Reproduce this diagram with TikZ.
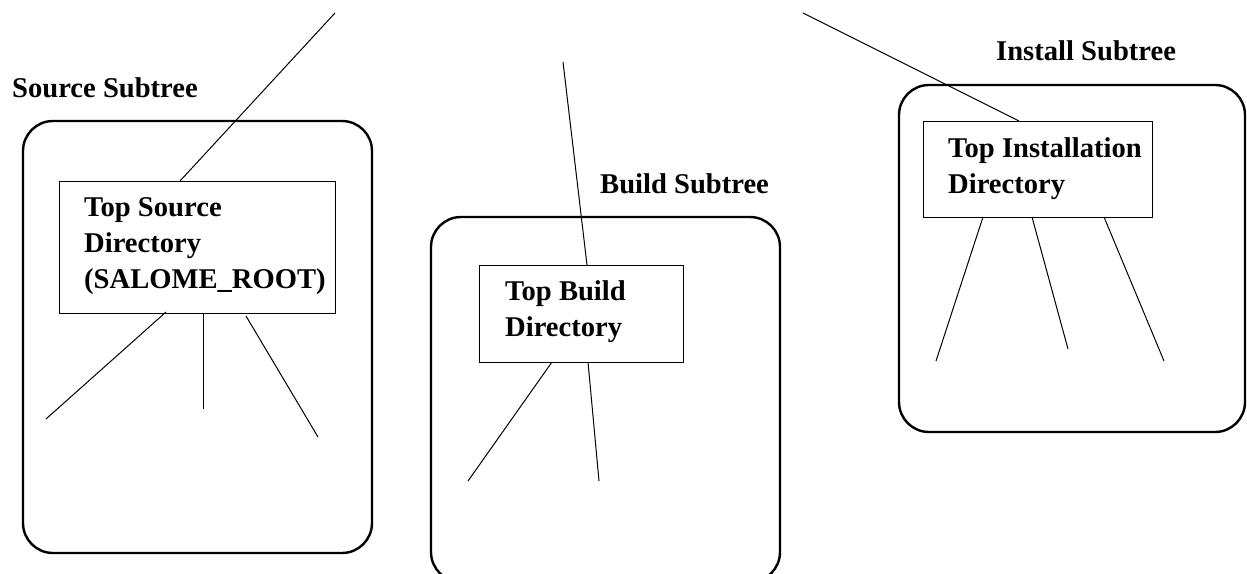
\documentclass[tikz,border=0pt]{standalone}
\usepackage{fontspec}
\setmainfont{Liberation Serif}
\begin{document}
\begin{tikzpicture}[x=1pt,y=-1pt,
  outerbox/.style={draw, line width=2.4pt, rounded corners=30pt},
  dirbox/.style={draw, line width=1.2pt, anchor=north west, inner sep=0pt},
  lbl/.style={font=\fontsize{28.6}{35.6}\selectfont\bfseries, anchor=base west, inner sep=0pt, align=left},
  conn/.style={draw, line width=1pt}]
\useasboundingbox (0,0) rectangle (1247,573);
\begin{scope}
\clip (0,0) rectangle (1247,573);
% outer subtree boxes
\draw[outerbox] (23,121) rectangle (372,553);
\draw[outerbox] (431,217) rectangle (780,582);
\draw[outerbox] (899,85) rectangle (1245,432);
\end{scope}
% titles
\node[lbl] (srctitle) at (12,97) {Source Subtree};
\node[lbl] (bldtitle) at (600,193) {Build Subtree};
\node[lbl] (insttitle) at (996,60) {Install Subtree};
% directory boxes
\node[dirbox, minimum width=276pt, minimum height=132pt] (srcbox) at (59,181) {};
\node[dirbox, minimum width=204pt, minimum height=97pt] (bldbox) at (479,265) {};
\node[dirbox, minimum width=229pt, minimum height=96pt] (instbox) at (923,121) {};
% directory texts (base anchor = last line)
\node[lbl] (srctext) at (84,288) {Top Source\\Directory\\(SALOME\_ROOT)};
\node[lbl] (bldtext) at (505,336) {Top Build\\Directory};
\node[lbl] (insttext) at (948,193) {Top Installation\\Directory};
% attach points and free ends
\coordinate (s0) at (335,13);  \coordinate (sa0) at (180,181);
\coordinate (sa1) at (166,312); \coordinate (s1) at (46,419);
\coordinate (sa2) at (203,313); \coordinate (s2) at (203,409);
\coordinate (sa3) at (246,316); \coordinate (s3) at (318,437);
\coordinate (b0) at (563,62);  \coordinate (ba0) at (587,265);
\coordinate (ba1) at (552,362); \coordinate (b1) at (468,481);
\coordinate (ba2) at (588,362); \coordinate (b2) at (599,481);
\coordinate (i0) at (803,13);  \coordinate (ia0) at (1019,121);
\coordinate (ia1) at (983,217); \coordinate (i1) at (936,361);
\coordinate (ia2) at (1032,217); \coordinate (i2) at (1068,349);
\coordinate (ia3) at (1104,217); \coordinate (i3) at (1164,361);
% connectors
\draw[conn] (s0) -- (sa0);
\draw[conn] (sa1) -- (s1);
\draw[conn] (sa2) -- (s2);
\draw[conn] (sa3) -- (s3);
\draw[conn] (b0) -- (ba0);
\draw[conn] (ba1) -- (b1);
\draw[conn] (ba2) -- (b2);
\draw[conn] (i0) -- (ia0);
\draw[conn] (ia1) -- (i1);
\draw[conn] (ia2) -- (i2);
\draw[conn] (ia3) -- (i3);
\end{tikzpicture}
\end{document}
